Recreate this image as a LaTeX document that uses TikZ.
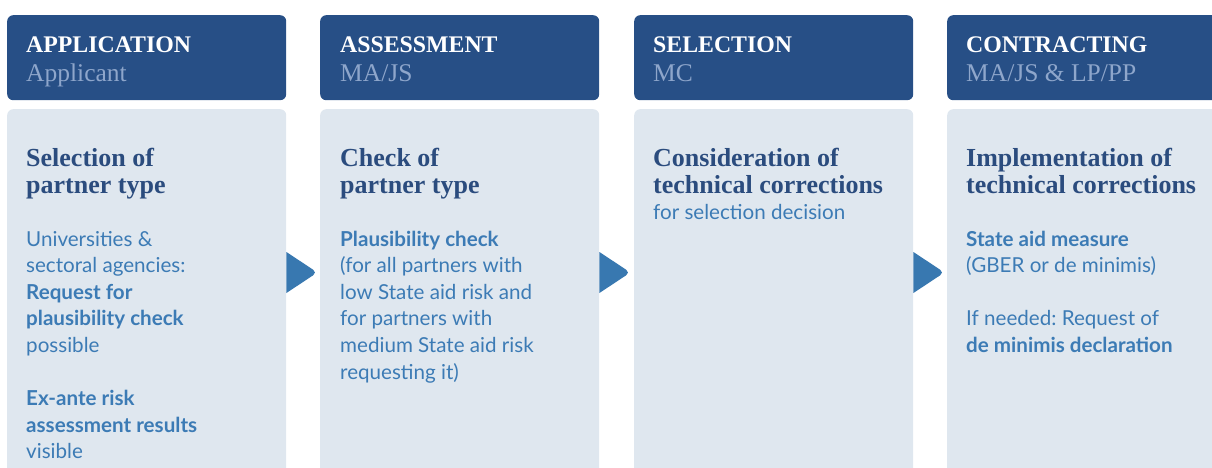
\documentclass[tikz,border=0pt]{standalone}
\usepackage{fontspec}
\setmainfont{Liberation Serif}
\newfontfamily\latofont{Lato}
\usetikzlibrary{calc}
\frenchspacing

\definecolor{headblue}{HTML}{274F86}
\definecolor{rolegrey}{HTML}{8EA6CB}
\definecolor{bodygrey}{HTML}{DFE7EF}
\definecolor{titleblue}{HTML}{2B4C7E}
\definecolor{textblue}{HTML}{3C7BB5}
\definecolor{arrowblue}{HTML}{3878B0}

\tikzset{
  headbox/.style={fill=headblue, rounded corners=6pt, inner sep=0pt,
    minimum width=279pt, minimum height=85pt, anchor=north west},
  bodybox/.style={fill=bodygrey, rounded corners=6pt, inner sep=0pt,
    minimum width=279pt, minimum height=380pt, anchor=north west},
  stagetext/.style={anchor=base west, inner sep=0pt, text=white,
    font=\fontsize{23.8}{28}\selectfont\bfseries},
  roletext/.style={anchor=base west, inner sep=0pt, text=rolegrey,
    font=\fontsize{25.5}{28}\selectfont},
  titletext/.style={anchor=base west, inner sep=0pt, text=titleblue,
    font=\fontsize{26}{27}\selectfont\bfseries},
  bodytext/.style={anchor=base west, inner sep=0pt, text=textblue,
    font=\latofont\fontsize{20.6}{26.6}\selectfont},
  steparrow/.style={fill=arrowblue}
}
\newcommand{\textlines}[1]{\parbox[t]{270pt}{\raggedright\frenchspacing #1}}

\begin{document}
\begin{tikzpicture}[x=1pt,y=-1pt]
\useasboundingbox (0,0) rectangle (1212,467);
\clip (0,0) rectangle (1212,467);

% header boxes
\node[headbox] (head1) at (7,15) {};
\node[headbox] (head2) at (320,15) {};
\node[headbox] (head3) at (634,15) {};
\node[headbox] (head4) at (947,15) {};

% body boxes
\node[bodybox] (body1) at (7,109) {};
\node[bodybox] (body2) at (320,109) {};
\node[bodybox] (body3) at (634,109) {};
\node[bodybox] (body4) at (947,109) {};

% stage names and roles
\node[stagetext] (stage1) at ($(head1.north west)+(19,37)$) {APPLICATION};
\node[roletext] (role1) at ($(head1.north west)+(19,66)$) {Applicant};
\node[stagetext] (stage2) at ($(head2.north west)+(20,37)$) {ASSESSMENT};
\node[roletext] (role2) at ($(head2.north west)+(20,66)$) {MA/JS};
\node[stagetext] (stage3) at ($(head3.north west)+(19,37)$) {SELECTION};
\node[roletext] (role3) at ($(head3.north west)+(19,66)$) {MC};
\node[stagetext] (stage4) at ($(head4.north west)+(19,37)$) {CONTRACTING};
\node[roletext] (role4) at ($(head4.north west)+(19,66)$) {MA/JS \& LP/PP};

% titles
\node[titletext] (title1) at ($(body1.north west)+(19,57)$)
  {\textlines{Selection of\\ partner type}};
\node[titletext] (title2) at ($(body2.north west)+(20,57)$)
  {\textlines{Check of\\ partner type}};
\node[titletext] (title3) at ($(body3.north west)+(19,57)$)
  {\textlines{Consideration of\\ technical corrections}};
\node[titletext] (title4) at ($(body4.north west)+(19,57)$)
  {\textlines{Implementation of\\ technical corrections}};

% details
\node[bodytext] (text1) at ($(body1.north west)+(19,137)$)
  {\textlines{Universities \&\\ sectoral agencies:\\ \textbf{Request for}\\
   \textbf{plausibility check}\\ possible\\[26.6pt]
   \textbf{Ex-ante risk}\\ \textbf{assessment results}\\ visible}};
\node[bodytext] (text2) at ($(body2.north west)+(20,137)$)
  {\textlines{\textbf{Plausibility check}\\ (for all partners with\\
   low State aid risk and\\ for partners with\\
   medium State aid risk\\ requesting it)}};
\node[bodytext] (text3) at ($(body3.north west)+(19,110)$)
  {\textlines{for selection decision}};
\node[bodytext] (text4) at ($(body4.north west)+(19,137)$)
  {\textlines{\textbf{State aid measure}\\ (GBER or de minimis)\\[26.6pt]
   If needed: Request of\\ \textbf{de minimis declaration}}};

% arrows between stages
\fill[steparrow] ($(body1.north east)+(0,143)$) [rounded corners=5pt]
  -- ($(body1.north east)+(31,163.5)$) [sharp corners]
  -- ($(body1.north east)+(0,184)$) -- cycle;
\fill[steparrow] ($(body2.north east)+(0,143)$) [rounded corners=5pt]
  -- ($(body2.north east)+(31,163.5)$) [sharp corners]
  -- ($(body2.north east)+(0,184)$) -- cycle;
\fill[steparrow] ($(body3.north east)+(0,143)$) [rounded corners=5pt]
  -- ($(body3.north east)+(31,163.5)$) [sharp corners]
  -- ($(body3.north east)+(0,184)$) -- cycle;
\end{tikzpicture}
\end{document}
